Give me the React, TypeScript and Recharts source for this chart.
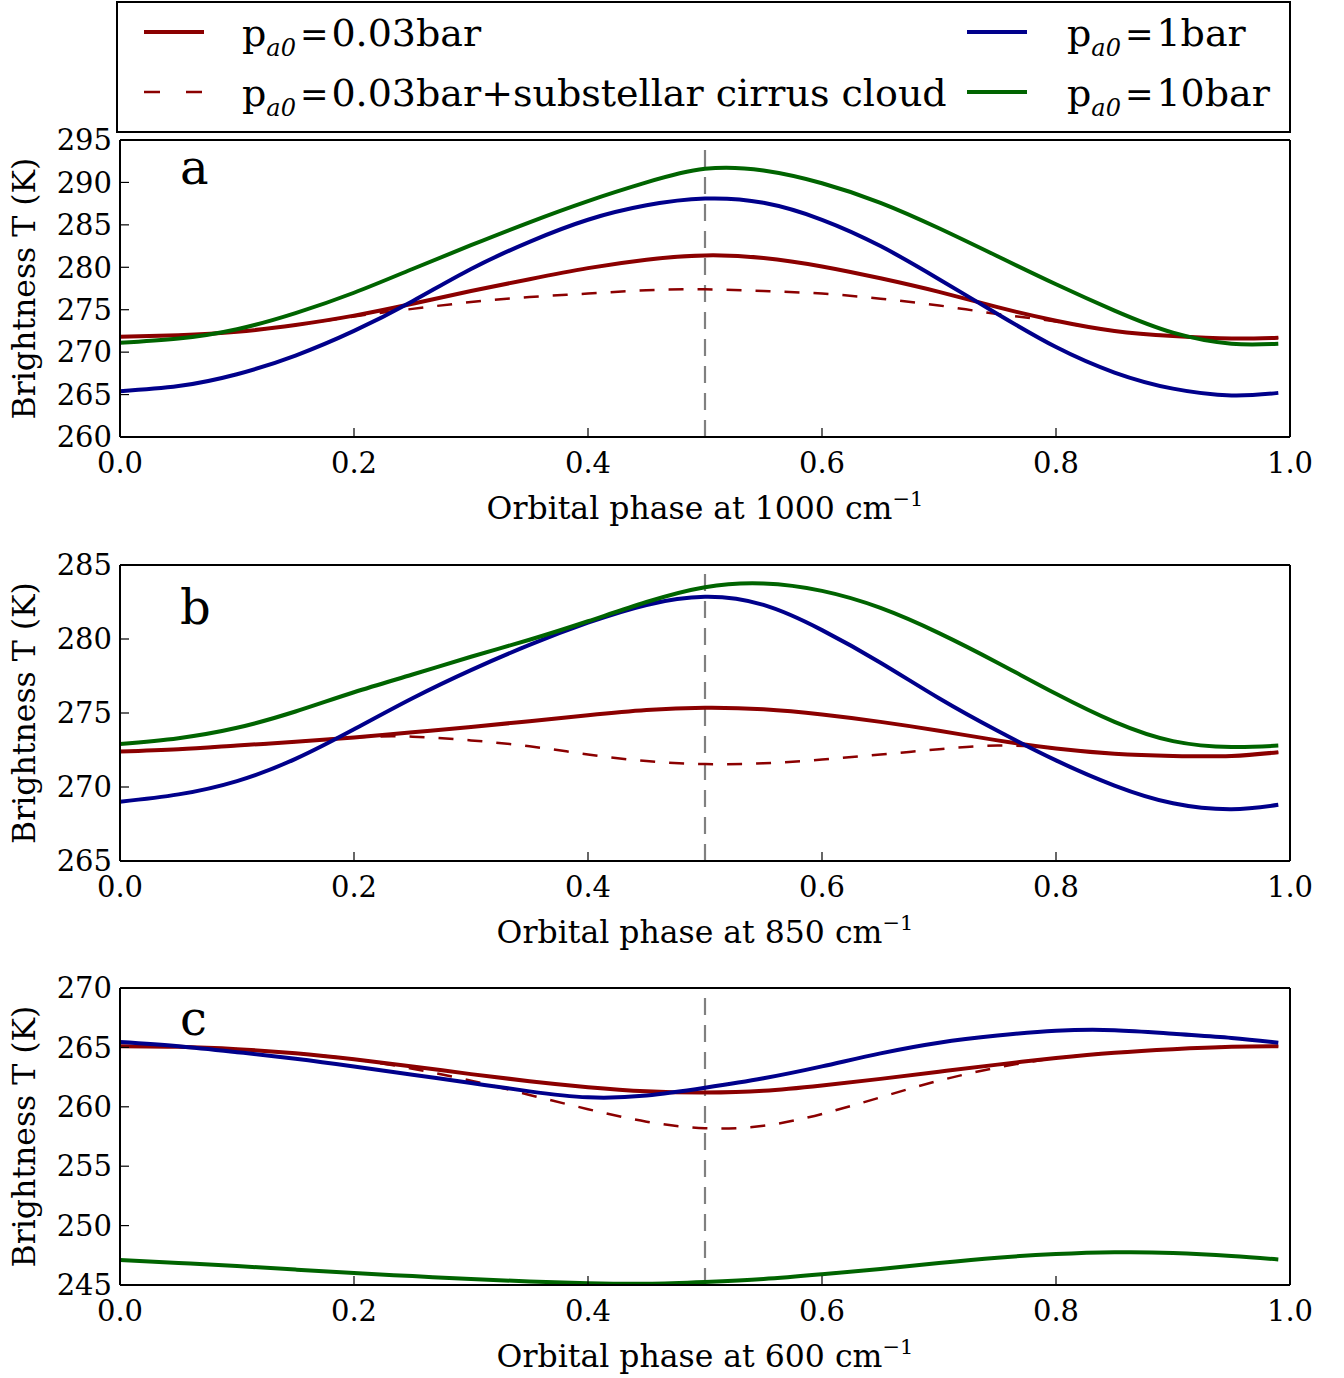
import React from 'react';
import { LineChart, Line, XAxis, YAxis, ReferenceLine, Legend } from 'recharts';

// orbital phase samples
const phase = [0, 0.05, 0.1, 0.15, 0.2, 0.25, 0.3, 0.35, 0.4, 0.45, 0.5, 0.55, 0.6, 0.65, 0.7, 0.75, 0.8, 0.85, 0.9, 0.95, 0.99];
const xTicks = [0, 0.2, 0.4, 0.6, 0.8, 1.0];

// panel a, 1000 cm-1
const a003 = [271.8, 272.0, 272.4, 273.2, 274.3, 275.7, 277.2, 278.6, 279.9, 280.9, 281.4, 281.1, 280.1, 278.7, 277.1, 275.3, 273.7, 272.5, 271.9, 271.6, 271.7];
const aCirrus = [271.8, 272.0, 272.4, 273.2, 274.2, 275.1, 275.9, 276.5, 276.9, 277.3, 277.4, 277.2, 276.9, 276.3, 275.5, 274.5, 273.6, 272.5, 271.9, 271.6, 271.7];
const a1 = [265.4, 266.0, 267.4, 269.6, 272.5, 276.0, 279.8, 283.0, 285.6, 287.3, 288.1, 287.6, 285.6, 282.5, 278.6, 274.5, 270.6, 267.6, 265.7, 264.9, 265.2];
const a10 = [271.1, 271.6, 272.7, 274.6, 277.0, 279.8, 282.6, 285.3, 287.8, 290.0, 291.6, 291.4, 289.9, 287.6, 284.6, 281.3, 278.0, 274.9, 272.3, 271.0, 271.0];
const aTicks = [260, 265, 270, 275, 280, 285, 290, 295];

// panel b, 850 cm-1
const b003 = [272.4, 272.55, 272.8, 273.05, 273.35, 273.7, 274.05, 274.45, 274.85, 275.2, 275.35, 275.25, 274.9, 274.4, 273.8, 273.15, 272.6, 272.25, 272.1, 272.1, 272.35];
const bCirrus = [272.4, 272.55, 272.8, 273.05, 273.35, 273.4, 273.15, 272.75, 272.2, 271.75, 271.55, 271.6, 271.85, 272.2, 272.55, 272.8, 272.6, 272.25, 272.1, 272.1, 272.35];
const b1 = [269.0, 269.5, 270.4, 271.9, 273.9, 276.0, 277.9, 279.6, 281.1, 282.3, 282.85, 282.3, 280.6, 278.4, 276.0, 273.8, 271.8, 270.1, 268.9, 268.5, 268.8];
const b10 = [272.9, 273.3, 274.0, 275.1, 276.4, 277.6, 278.8, 279.95, 281.2, 282.5, 283.5, 283.75, 283.25, 282.1, 280.4, 278.4, 276.3, 274.4, 273.1, 272.7, 272.8];
const bTicks = [265, 270, 275, 280, 285];

// panel c, 600 cm-1
const c003 = [265.1, 265.05, 264.85, 264.5, 264.0, 263.4, 262.75, 262.15, 261.65, 261.3, 261.2, 261.35, 261.8, 262.35, 262.95, 263.55, 264.1, 264.55, 264.85, 265.05, 265.1];
const cCirrus = [265.1, 265.05, 264.85, 264.5, 264.0, 263.2, 262.2, 261.0, 259.8, 258.75, 258.2, 258.4, 259.4, 260.8, 262.2, 263.3, 264.1, 264.55, 264.85, 265.05, 265.1];
const c1 = [265.45, 265.1, 264.6, 264.05, 263.4, 262.7, 262.0, 261.3, 260.8, 260.95, 261.6, 262.4, 263.4, 264.5, 265.4, 266.0, 266.4, 266.45, 266.15, 265.8, 265.4];
const c10 = [247.1, 246.85, 246.6, 246.3, 246.0, 245.75, 245.5, 245.3, 245.15, 245.1, 245.25, 245.5, 245.9, 246.35, 246.85, 247.3, 247.6, 247.75, 247.7, 247.45, 247.15];
const cTicks = [245, 250, 255, 260, 265, 270];

const FONT = '"DejaVu Serif", serif';
const RED = '#8b0000';
const BLUE = '#00008b';
const GREEN = '#006400';

const makeRows = (p003: number[], cirrus: number[], p1: number[], p10: number[]) =>
  phase.map((ph, i) => ({ phase: ph, p003: p003[i], cirrus: cirrus[i], p1: p1[i], p10: p10[i] }));

const legendItems = [
  { label: '0.03bar', color: RED, dashed: false, col: 0, row: 0 },
  { label: '0.03bar+substellar cirrus cloud', color: RED, dashed: true, col: 0, row: 1 },
  { label: '1bar', color: BLUE, dashed: false, col: 1, row: 0 },
  { label: '10bar', color: GREEN, dashed: false, col: 1, row: 1 },
];

const PLabel = ({ x, y, value }: { x: number; y: number; value: string }) => (
  <text x={x} y={y} fontFamily={FONT} fontSize={38} fill="#000">
    p<tspan fontSize={24} fontStyle="italic" dy={10}>a0</tspan>
    <tspan dy={-10} dx={4} fontSize={34}>=</tspan>
    <tspan dx={3}>{value}</tspan>
  </text>
);

// legend box is drawn in page coords offset by (116, 1)
const renderLegend = () => (
  <svg width={1176} height={133} style={{ display: 'block' }}>
    <rect x={1} y={1} width={1173} height={130} fill="#fff" stroke="#000" strokeWidth={2} />
    {legendItems.map((it) => {
      const lx = it.col === 0 ? 28 : 851;
      const tx = it.col === 0 ? 126 : 951;
      const ly = it.row === 0 ? 31 : 91;
      return (
        <g key={it.label}>
          <line
            x1={lx}
            x2={lx + 60}
            y1={ly}
            y2={ly}
            stroke={it.color}
            strokeWidth={it.dashed ? 2.5 : 4}
            strokeDasharray={it.dashed ? '16 26' : undefined}
          />
          <PLabel x={tx} y={ly + 14} value={it.label} />
        </g>
      );
    })}
  </svg>
);

const xLabel = (wn: string) => (props: any) => {
  const vb = props.viewBox;
  const cx = vb.x + vb.width / 2;
  return (
    <text x={cx} y={vb.y + 82} textAnchor="middle" fontFamily={FONT} fontSize={31.5} fill="#000">
      {`Orbital phase at ${wn} cm`}
      <tspan fontSize={21} dy={-13}>−1</tspan>
    </text>
  );
};

const yLabel = (props: any) => {
  const vb = props.viewBox;
  const cx = 24;
  const cy = vb.y + vb.height / 2;
  return (
    <text
      x={cx}
      y={cy}
      transform={`rotate(-90 ${cx} ${cy})`}
      textAnchor="middle"
      dominantBaseline="central"
      fontFamily={FONT}
      fontSize={31.5}
      fill="#000"
    >
      Brightness T (K)
    </text>
  );
};

interface PanelProps {
  rows: ReturnType<typeof makeRows>;
  yTicks: number[];
  wn: string;
  letter: string;
  letterOffset: number;
  top: number;
  marginTop: number;
  plotH: number;
  legend?: boolean;
}

const axisLine = { stroke: '#000', strokeWidth: 2 };
const tickLine = { stroke: '#000', strokeWidth: 1.2 };
const tickFont = { fill: '#000', fontSize: 29, fontFamily: FONT };

const Panel: React.FC<PanelProps> = ({ rows, yTicks, wn, letter, letterOffset, top, marginTop, plotH, legend }) => {
  const height = marginTop + 1 + plotH + 90;
  const domain: [number, number] = [yTicks[0], yTicks[yTicks.length - 1]];
  return (
    <div style={{ position: 'absolute', left: 0, top }}>
      <LineChart width={1344} height={height} data={rows} margin={{ top: marginTop, right: 53, bottom: 0, left: 0 }}>
        <XAxis
          xAxisId="b"
          dataKey="phase"
          type="number"
          domain={[0, 1]}
          ticks={xTicks}
          interval={0}
          tickFormatter={(v: number) => v.toFixed(1)}
          height={90}
          axisLine={axisLine}
          tickLine={tickLine}
          tickSize={-9}
          tickMargin={24}
          tick={tickFont}
          label={{ content: xLabel(wn) }}
        />
        <XAxis
          xAxisId="t"
          orientation="top"
          type="number"
          domain={[0, 1]}
          ticks={xTicks}
          interval={0}
          height={1}
          axisLine={axisLine}
          tickLine={tickLine}
          tickSize={-9}
          tick={false}
        />
        <YAxis
          yAxisId="l"
          type="number"
          domain={domain}
          ticks={yTicks}
          interval={0}
          width={120}
          axisLine={axisLine}
          tickLine={tickLine}
          tickSize={-9}
          tickMargin={17}
          tick={tickFont}
          label={{ content: yLabel }}
        />
        <YAxis
          yAxisId="r"
          orientation="right"
          type="number"
          domain={domain}
          ticks={yTicks}
          interval={0}
          width={1}
          axisLine={axisLine}
          tickLine={tickLine}
          tickSize={-9}
          tick={false}
        />
        <ReferenceLine x={0.5} xAxisId="b" yAxisId="l" stroke="#808080" strokeWidth={2.2} strokeDasharray="17 10" />
        <Line xAxisId="b" yAxisId="l" type="natural" dataKey="cirrus" stroke={RED} strokeWidth={2.5} strokeDasharray="15 14" dot={false} isAnimationActive={false} />
        <Line xAxisId="b" yAxisId="l" type="natural" dataKey="p003" stroke={RED} strokeWidth={4} dot={false} isAnimationActive={false} />
        <Line xAxisId="b" yAxisId="l" type="natural" dataKey="p1" stroke={BLUE} strokeWidth={4} dot={false} isAnimationActive={false} />
        <Line xAxisId="b" yAxisId="l" type="natural" dataKey="p10" stroke={GREEN} strokeWidth={4} dot={false} isAnimationActive={false} />
        <text x={180} y={marginTop + 1 + letterOffset} fontFamily={FONT} fontSize={48} fill="#000">
          {letter}
        </text>
        {legend && (
          <Legend
            layout="horizontal"
            verticalAlign="middle"
            align="center"
            content={renderLegend}
            wrapperStyle={{ left: 116, top: 1, width: 1176, height: 133 }}
          />
        )}
      </LineChart>
    </div>
  );
};

export default function App() {
  return (
    <div style={{ position: 'absolute', left: 0, top: 0, width: 1344, height: 1378, background: '#fff' }}>
      <Panel rows={makeRows(a003, aCirrus, a1, a10)} yTicks={aTicks} wn="1000" letter="a" letterOffset={44} top={0} marginTop={139} plotH={297} legend />
      <Panel rows={makeRows(b003, bCirrus, b1, b10)} yTicks={bTicks} wn="850" letter="b" letterOffset={59} top={545} marginTop={19} plotH={296} />
      <Panel rows={makeRows(c003, cCirrus, c1, c10)} yTicks={cTicks} wn="600" letter="c" letterOffset={47} top={968} marginTop={19} plotH={297} />
    </div>
  );
}
